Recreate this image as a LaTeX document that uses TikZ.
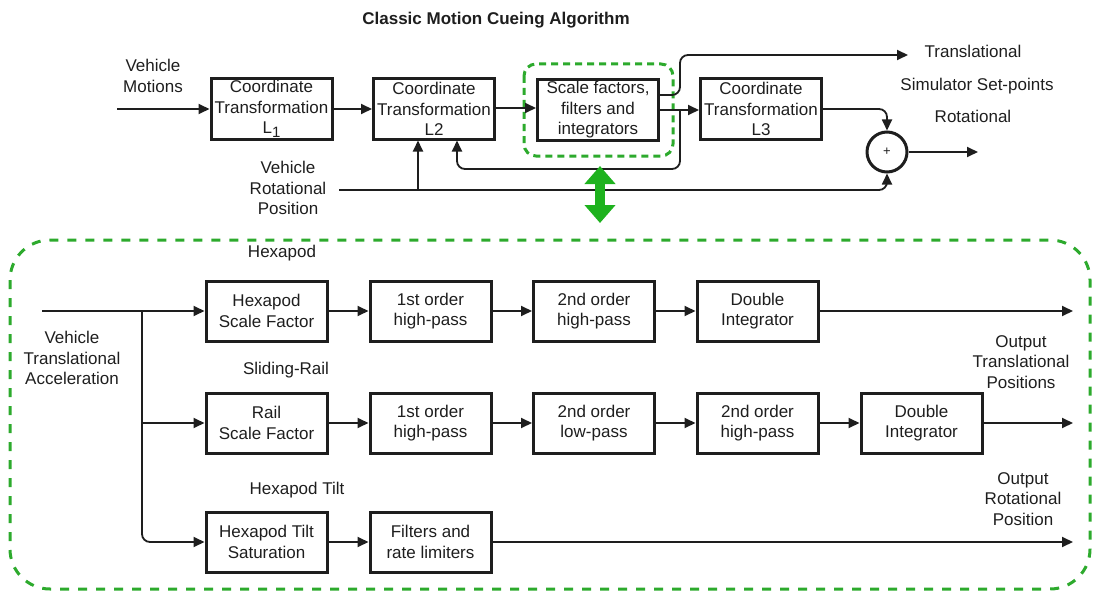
\documentclass[tikz,border=0pt]{standalone}
\usepackage{fontspec}
\setmainfont{Liberation Sans}
\usetikzlibrary{arrows.meta,calc}
\definecolor{ink}{RGB}{30,30,30}
\definecolor{dashgreen}{RGB}{45,170,45}
\definecolor{arrowgreen}{RGB}{30,178,30}
\newcommand\figfont{\fontsize{17}{20.5}\selectfont}
\begin{document}
\begin{tikzpicture}[x=1pt,y=-1pt,
  blk/.style={draw=ink, line width=3pt, minimum width=121pt, minimum height=60pt,
              inner sep=0pt, align=center, text=ink, font=\figfont},
  lab/.style={align=center, text=ink, font=\figfont, inner sep=0pt},
  wire/.style={draw=ink, line width=1.8pt, rounded corners=8pt},
  arr/.style={wire, -{Triangle[length=11pt,width=10pt]}},
  groupbox/.style={draw=dashgreen, line width=3pt, dash pattern=on 9pt off 9pt},
]
\useasboundingbox (0,0) rectangle (1094,591);

% ---------- title ----------
\node[lab, font=\fontsize{17}{20}\selectfont\bfseries] (title) at (496,20) {Classic Motion Cueing Algorithm};

% ---------- top chain ----------
\node[blk] (L1) at (271.5,109) {Coordinate\\Transformation\\L\raisebox{-4pt}{\fontsize{15}{15}\selectfont 1}};
\node[blk] (L2) at (434,109) {Coordinate\\Transformation\\L2};
\node[blk] (SF) at (598,110) {Scale factors,\\filters and\\integrators};
\node[blk] (L3) at (761,109) {Coordinate\\Transformation\\L3};
\node[draw=ink, line width=3pt, circle, minimum size=40pt, inner sep=0pt,
      text=ink, font=\fontsize{13}{13}\selectfont] (sum) at (887,152) {+};

\draw[draw=dashgreen, line width=3pt, dash pattern=on 7pt off 5pt, rounded corners=12pt]
  (524,64) rectangle (673,156);

\node[lab] (vm) at (153,76) {Vehicle\\Motions};
\node[lab] (vrp) at (288,188) {Vehicle\\Rotational\\Position};
\node[lab] (tr) at (973,51) {Translational};
\node[lab] (ssp) at (977,86) {Simulator Set-points};
\node[lab] (rot) at (973,116) {Rotational};

\coordinate (in1) at (117,109);
\coordinate (jf) at (680,110);
\coordinate (fb1) at (680,169);
\coordinate (fb2) at (457,169);
\coordinate (rp) at (339,190);
\coordinate (rpj) at (418,190);
\coordinate (rpc) at (887,190);
\coordinate (tr1) at (680,95);
\coordinate (tr2) at (680,55);
\coordinate (trend) at (908,55);
\coordinate (l3c) at (887,109);
\coordinate (sumout) at (978,152);

\draw[arr] (in1) -- (L1.west |- in1);
\draw[arr] (L1.east |- in1) -- (L2.west |- in1);
\draw[arr] (L2.east |- 0,108) -- (SF.west |- 0,108);
\draw[arr] (SF.east) -- (L3.west |- SF.east);
\draw[arr] ([yshift=15pt]SF.east) -- (tr1) -- (tr2) -- (trend);
\draw[arr] (jf) -- (fb1) -- (fb2) -- (L2.south -| fb2);
\draw[arr] (rp) -- (rpc) -- (sum.south);
\draw[arr] (rpj) -- (L2.south -| rpj);
\draw[arr] (L3.east) -- (l3c) -- (sum.north);
\draw[arr] (sum.east) -- (sumout);

% ---------- link between the two levels ----------
\coordinate (ga) at (600,166);
\coordinate (gb) at (600,223);
\draw[arrowgreen, line width=10pt,
  {Triangle[length=18pt,width=30pt]}-{Triangle[length=18pt,width=30pt]}] (ga) -- (gb);

% ---------- detailed block ----------
\draw[groupbox, rounded corners=40pt] (10,240) rectangle (1090,589);

\node[lab] (hexlab) at (282,253) {Hexapod};
\node[lab] (raillab) at (286,370) {Sliding-Rail};
\node[lab] (tiltlab) at (297,490) {Hexapod Tilt};
\node[lab] (vta) at (72,358) {Vehicle\\Translational\\Acceleration};
\node[lab] (otp) at (1021,362) {Output\\Translational\\Positions};
\node[lab] (orp) at (1023,499) {Output\\Rotational\\Position};

\node[blk] (H1) at (266.5,311) {Hexapod\\Scale Factor};
\node[blk] (H2) at (430.5,311) {1st order\\high-pass};
\node[blk] (H3) at (594,311) {2nd order\\high-pass};
\node[blk] (H4) at (757.5,311) {Double\\Integrator};

\node[blk] (R1) at (266.5,423) {Rail\\Scale Factor};
\node[blk] (R2) at (430.5,423) {1st order\\high-pass};
\node[blk] (R3) at (594,423) {2nd order\\low-pass};
\node[blk] (R4) at (757.5,423) {2nd order\\high-pass};
\node[blk] (R5) at (921.5,423) {Double\\Integrator};

\node[blk] (T1) at (266.5,542) {Hexapod Tilt\\Saturation};
\node[blk] (T2) at (430.5,542) {Filters and\\rate limiters};

\coordinate (in2) at (42,311);
\coordinate (br) at (142,311);
\coordinate (brr) at (142,423);
\coordinate (brt) at (142,542);
\coordinate (o1) at (1073,311);
\coordinate (o2) at (1073,423);
\coordinate (o3) at (1073,542);

\draw[arr] (in2) -- (H1.west);
\draw[arr] (br) -- (brt) -- (T1.west);
\draw[arr] (brr) -- (R1.west);
\draw[arr] (H1) -- (H2);
\draw[arr] (H2) -- (H3);
\draw[arr] (H3) -- (H4);
\draw[arr] (H4) -- (o1);
\draw[arr] (R1) -- (R2);
\draw[arr] (R2) -- (R3);
\draw[arr] (R3) -- (R4);
\draw[arr] (R4) -- (R5);
\draw[arr] (R5) -- (o2);
\draw[arr] (T1) -- (T2);
\draw[arr] (T2) -- (o3);
\end{tikzpicture}
\end{document}
